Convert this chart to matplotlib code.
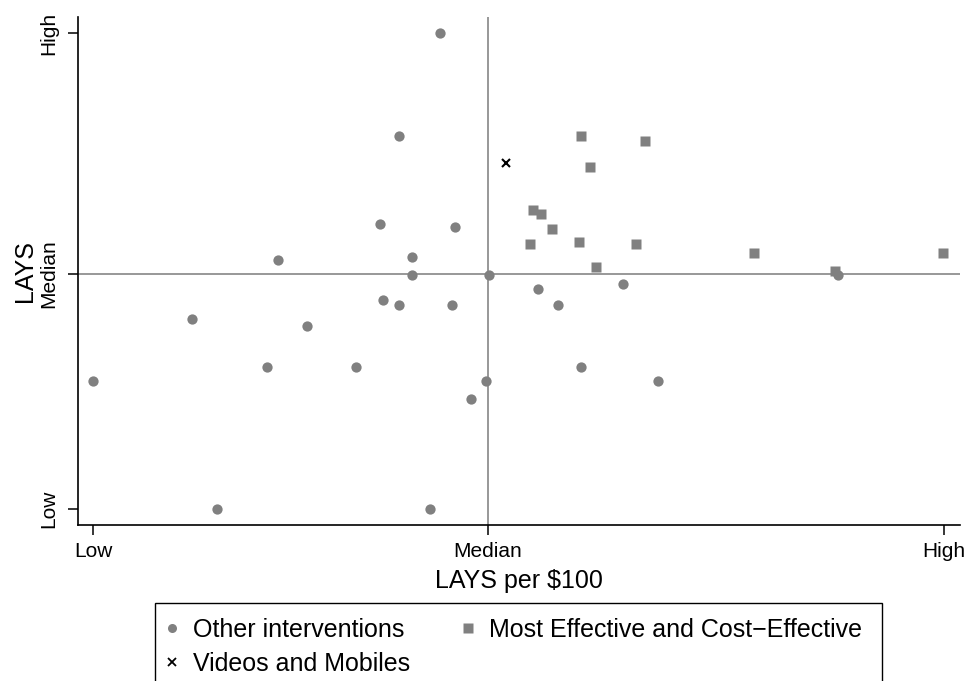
import matplotlib.pyplot as plt
from matplotlib.lines import Line2D
from matplotlib.patches import Rectangle

plt.rcParams['font.family'] = ['Liberation Sans', 'DejaVu Sans']

# %% Data (Low = 0, High = 100 on both axes)
x_median = 46.4
y_median = 49.4

other_x = [0.0, 11.6, 14.6, 20.4, 21.8, 25.1, 30.9, 34.1, 33.7, 36.0, 36.0, 37.5, 37.5,
           40.8, 39.6, 42.5, 42.2, 44.4, 46.2, 46.6, 52.3, 54.6, 57.3, 62.3, 66.4, 87.6]
other_y = [26.9, 40.0, 0.0, 29.9, 52.3, 38.4, 29.9, 44.0, 59.8, 78.4, 42.8, 53.0, 49.1,
           100.0, 0.0, 59.3, 42.8, 23.1, 26.9, 49.1, 46.2, 42.8, 29.9, 47.3, 26.8, 49.2]

best_x = [57.3, 64.9, 58.4, 51.7, 52.7, 54.0, 51.4, 57.1, 63.8, 59.1, 77.7, 87.2, 99.9]
best_y = [78.4, 77.4, 71.8, 62.8, 62.0, 58.8, 55.6, 56.2, 55.6, 50.8, 53.7, 50.1, 53.7]

video_x = [48.5]
video_y = [72.8]

tick_pos_x = [0, x_median, 100]
tick_pos_y = [0, y_median, 100]
tick_labels = ['Low', 'Median', 'High']

# %% Plot
W, H = 969, 681
fig = plt.figure(figsize=(W / 100, H / 100), dpi=100)
ax = fig.add_axes([78 / W, 1 - 525 / H, 882 / W, 508 / H])

ax.axhline(y_median, color='#989898', lw=1.4, zorder=1)
ax.axvline(x_median, color='#989898', lw=1.4, zorder=1)

ax.plot(other_x, other_y, 'o', color='#808080', ms=7.4, mec='none', zorder=3)
ax.plot(best_x, best_y, 's', color='#808080', ms=7.6, mec='none', zorder=2)
ax.plot(video_x, video_y, 'x', color='black', ms=6, mew=1.5, zorder=4)

ax.set_xlim(-1.76, 101.9)
ax.set_ylim(-3.36, 103.4)

ax.set_xticks(tick_pos_x)
ax.set_xticklabels(tick_labels, fontsize=15)
ax.set_yticks(tick_pos_y)
ax.set_yticklabels(tick_labels, fontsize=15, rotation=90, va='center')
ax.tick_params(direction='out', length=7, width=1.1, color='black')
ax.tick_params(axis='x', pad=5.5)
ax.tick_params(axis='y', pad=7.5)

for s in ['top', 'right']:
    ax.spines[s].set_visible(False)
for s in ['left', 'bottom']:
    ax.spines[s].set_linewidth(1.2)

ax.set_xlabel('LAYS per $100', fontsize=18, labelpad=5.5)
ax.set_ylabel('LAYS', fontsize=18, labelpad=1)

# legend frame, cut off by the bottom edge like the original
fig.patches.append(Rectangle((155 / W, -20 / H), 727 / W, (H - 603 + 20) / H,
                             transform=fig.transFigure, fill=False,
                             edgecolor='black', lw=1.0))

handles = [
    Line2D([], [], marker='o', ls='none', color='#808080', mec='none', ms=6.5),
    Line2D([], [], marker='x', ls='none', color='black', ms=6, mew=1.3),
    Line2D([], [], marker='s', ls='none', color='#808080', mec='none', ms=6.5),
]
labels = ['Other interventions', 'Videos and Mobiles', 'Most Effective and Cost\u2212Effective']
fig.legend(handles, labels, ncol=2, loc='upper left',
           bbox_to_anchor=(162 / W, 1 - 618 / H),
           fontsize=18, frameon=False,
           handlelength=0.8, handletextpad=0.45, columnspacing=1.9,
           labelspacing=0.4, borderpad=0, borderaxespad=0)

fig.savefig('out.png', dpi=100)
